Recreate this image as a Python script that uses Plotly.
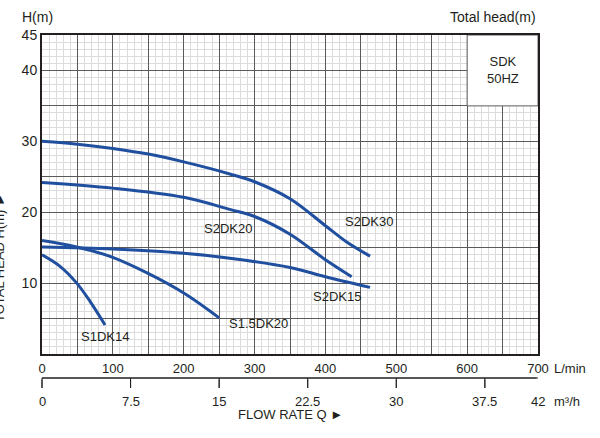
import plotly.graph_objects as go

# pump curves, flow in L/min, head in m
s2dk30_q = [0, 50, 100, 150, 200, 265, 300, 350, 400, 430, 463]
s2dk30_h = [30.0, 29.6, 29.0, 28.2, 27.1, 25.4, 24.3, 21.9, 18.1, 15.8, 13.8]

s2dk20_q = [0, 100, 200, 265, 300, 350, 400, 437]
s2dk20_h = [24.2, 23.4, 22.1, 20.4, 19.4, 16.9, 13.3, 10.9]

s2dk15_q = [0, 100, 200, 265, 350, 400, 463]
s2dk15_h = [15.1, 14.8, 14.2, 13.5, 12.2, 10.9, 9.4]

s15dk20_q = [0, 49, 98, 149, 200, 250]
s15dk20_h = [16.0, 15.1, 13.7, 11.4, 8.6, 5.1]

s1dk14_q = [0, 25, 49, 68, 89]
s1dk14_h = [14.0, 12.4, 10.0, 7.4, 4.1]

curve_names = ["S2DK30", "S2DK20", "S2DK15", "S1.5DK20", "S1DK14"]
curve_q = [s2dk30_q, s2dk20_q, s2dk15_q, s15dk20_q, s1dk14_q]
curve_h = [s2dk30_h, s2dk20_h, s2dk15_h, s15dk20_h, s1dk14_h]

# label positions (L/min, m)
label_q = [461, 262, 416, 305, 89]
label_h = [18.7, 17.7, 8.1, 4.3, 2.4]

lmin_ticks = list(range(0, 701, 50))
lmin_text = [str(v) if v % 100 == 0 else "" for v in lmin_ticks]
head_ticks = list(range(0, 46, 5))
head_text = [str(v) if v in (10, 20, 30, 40, 45) else "" for v in head_ticks]
m3h_ticks = [0, 7.5, 15, 22.5, 30, 37.5]
m3h_text = ["0", "7.5", "15", "22.5", "30", "37.5"]
m3h_max = 42  # same width as 700 L/min

FONT = "Liberation Sans, Arial, sans-serif"
TXT = "#231f20"
BLUE = "#1f4f9e"
W, H = 600, 438
ML, MR, MT, MB = 42, 62, 35, 40
PH = H - MT - MB
PW = W - ML - MR


def py(pix):
    # pixel row -> paper y
    return (H - MB - pix) / PH


def px(pix):
    return (pix - ML) / PW


def to_lmin(m3h):
    return m3h * 1000.0 / 60.0


def note(x, y, text, size=13, **kw):
    opts = dict(xref="paper", yref="paper", xanchor="center", yanchor="middle")
    opts.update(kw)
    fig.add_annotation(x=x, y=y, text=text, showarrow=False,
                       font=dict(size=size, color=TXT, family=FONT), **opts)


def rule(x, y, **kw):
    # plain line drawn as an annotation arrow without head
    fig.add_annotation(x=x, y=y, xref="x", yref="paper", text="", showarrow=True,
                       arrowhead=0, arrowwidth=1, arrowcolor=TXT,
                       standoff=0, startstandoff=0, **kw)


fig = go.Figure()

for name, q, h in zip(curve_names, curve_q, curve_h):
    fig.add_trace(go.Scatter(
        x=q, y=h, mode="lines", name=name,
        line=dict(color=BLUE, width=3, shape="spline", smoothing=1.0),
        showlegend=False, hoverinfo="skip",
    ))

# m3/h scale under the chart: line with ticks hanging down
rule(to_lmin(0), py(378), ax=to_lmin(m3h_max), axref="x", ay=0)
for t in m3h_ticks:
    rule(to_lmin(t), py(388), ax=0, ay=-10)
fig.add_shape(type="line", xref="paper", yref="paper", x0=0, x1=1,
              y0=py(378), y1=py(378), line=dict(color=TXT, width=1))
for t in m3h_ticks:
    fig.add_shape(type="line", xref="paper", yref="paper",
                  x0=t / m3h_max, x1=t / m3h_max, y0=py(378), y1=py(388),
                  line=dict(color=TXT, width=1))
for t, s in zip(m3h_ticks, m3h_text):
    note(to_lmin(t), py(401), s, xref="x")
note(to_lmin(m3h_max), py(401), "42", xref="x")
note(to_lmin(m3h_max), py(401), "m³/h", xref="x", xshift=14, xanchor="left")

for name, q, h in zip(curve_names, label_q, label_h):
    note(q, h, name, xref="x", yref="y")

fig.add_shape(type="rect", x0=600, x1=700, y0=35, y1=45, layer="between",
              fillcolor="white", line=dict(color="#5a5a5a", width=1))
note(650, 40, "SDK<br>50HZ", xref="x", yref="y")

note(px(20), py(17), "H(m)", size=14, xanchor="left")
note(px(538), py(17), "Total head(m)", size=14, xanchor="right")
note(px(-1), py(258), "TOTAL HEAD H(m) ►", textangle=-90)
note(700, py(368), "L/min", xref="x", xshift=14, xanchor="left")
note(px(290), py(414), "FLOW RATE Q ►")

fig.update_layout(
    width=W, height=H,
    margin=dict(l=ML, r=MR, t=MT, b=MB, autoexpand=False),
    paper_bgcolor="white", plot_bgcolor="white",
    font=dict(family=FONT, size=13, color=TXT),
    xaxis=dict(
        range=[0, 700], tickvals=lmin_ticks, ticktext=lmin_text, automargin=False,
        showgrid=True, gridcolor="#5a5a5a", gridwidth=1, zeroline=False,
        showline=True, linecolor=TXT, linewidth=2, mirror=True,
        ticks="", ticklabelstandoff=1,
        minor=dict(dtick=10, tick0=0, showgrid=True, gridcolor="#dcdcdc", gridwidth=1),
    ),
    yaxis=dict(
        range=[0, 45], domain=[(H - MB - 354) / PH, 1], automargin=False,
        tickvals=head_ticks, ticktext=head_text,
        showgrid=True, gridcolor="#5a5a5a", gridwidth=1, zeroline=False,
        showline=True, linecolor=TXT, linewidth=2, mirror=True,
        ticks="", tickfont=dict(size=14),
        minor=dict(dtick=1, tick0=0, showgrid=True, gridcolor="#dcdcdc", gridwidth=1),
    ),
)

fig.write_html("out.html", config={"displayModeBar": False},
               post_script="document.body.style.margin='0';")
